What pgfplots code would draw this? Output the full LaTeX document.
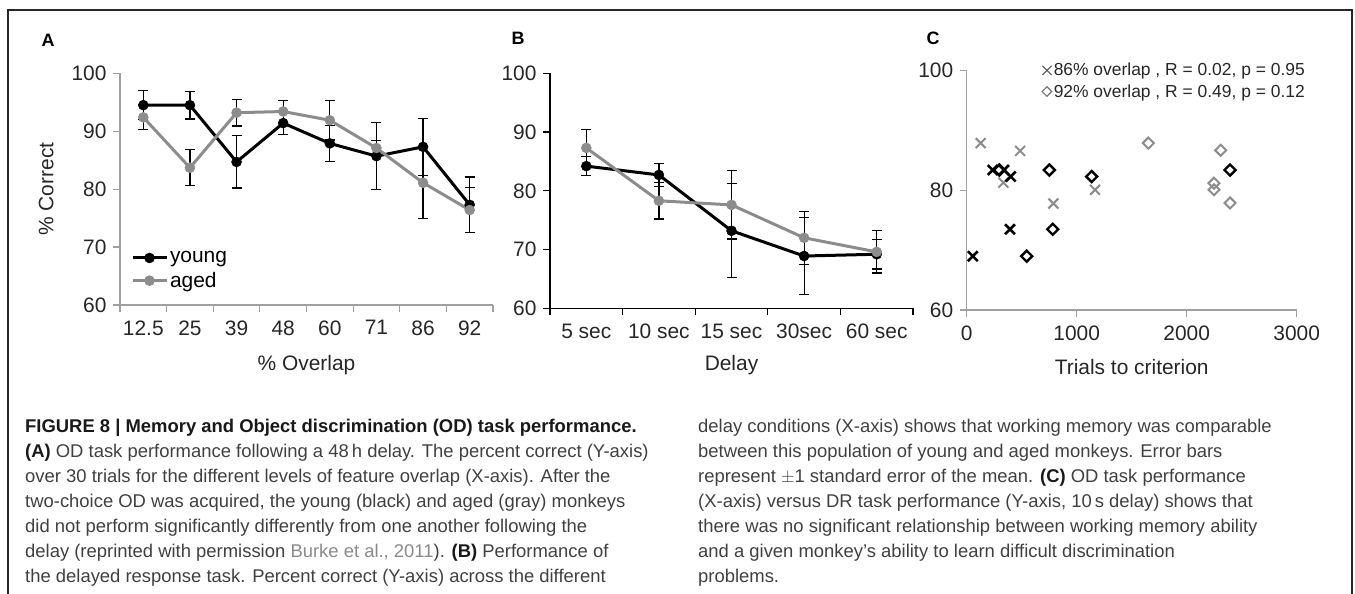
\documentclass[border=0pt]{standalone}
\usepackage{pgfplots}
\pgfplotsset{compat=1.18}
\usepackage{pgfplotstable}
\usepackage{fontspec}
\setmainfont{Liberation Sans}
\definecolor{sergray}{HTML}{8C8C8C}
\definecolor{axgray}{HTML}{A0A0A0}
\definecolor{captxt}{HTML}{404040}
\definecolor{linkgray}{HTML}{8A8A8A}

\pgfplotstableread{
x y e
0.5 94.5 2.5
1.5 94.5 2.4
2.5 84.7 4.5
3.5 91.4 1.9
4.5 87.9 3.1
5.5 85.7 5.8
6.5 87.3 4.9
7.5 77.3 4.8
}\Ayoung
\pgfplotstableread{
x y e
0.5 92.4 2.1
1.5 83.7 3.1
2.5 93.2 2.3
3.5 93.4 1.9
4.5 91.9 3.4
5.5 87.1 1.3
6.5 81.1 6.1
7.5 76.4 3.9
}\Aaged
\pgfplotstableread{
x y e
0.5 84.2 1.6
1.5 82.7 1.9
2.5 73.2 8.0
3.5 68.9 6.5
4.5 69.2 2.5
}\Byoung
\pgfplotstableread{
x y e
0.5 87.3 3.2
1.5 78.3 3.1
2.5 77.6 5.8
3.5 72.0 4.5
4.5 69.6 3.6
}\Baged
\pgfplotstableread{
x y
127 87.9
485 86.6
333 81.3
788 77.8
1167 80.1
}\Cxgray
\pgfplotstableread{
x y
55 69.0
236 83.4
339 83.4
400 82.3
394 73.5
}\Cxblack
\pgfplotstableread{
x y
297 83.4
751 83.4
1136 82.3
782 73.5
545 69.0
2394 83.4
}\Cdblack
\pgfplotstableread{
x y
1651 87.9
2309 86.7
2248 81.2
2248 80.1
2394 77.9
}\Cdgray

\pgfplotsset{
  panel/.style={
    scale only axis,
    axis lines=left,
    axis line style={-},
    tick align=outside,
    major tick length=7bp,
    ticklabel style={font=\fontsize{21}{21}\selectfont, text=black!85},
    label style={font=\fontsize{21}{21}\selectfont, text=black!85},
    /pgf/number format/assume math mode=true,
    /pgf/number format/1000 sep={},
    ymin=60, ymax=100,
    clip=false,
    yticklabel style={xshift=-3bp},
    xticklabel style={yshift=-5bp},
  },
  errs/.style={
    error bars/.cd, y dir=both, y explicit,
    error bar style={black, line width=1.2bp},
    error mark options={rotate=90, mark size=5bp, black, line width=1.2bp},
  },
  young/.style={black, line width=3bp, line join=round, mark=*, mark size=5bp, mark options={fill=black, line width=0.5bp}},
  aged/.style={sergray, line width=3bp, line join=round, mark=*, mark size=5bp, mark options={fill=sergray, line width=0.5bp}},
}

\begin{document}
\begin{tikzpicture}
\path[use as bounding box] (0,0) rectangle (1355bp,-594bp);
\draw[line width=1.5bp, black!85] (8bp,-594bp) -- (8bp,-10bp) -- (1352bp,-10bp) -- (1352bp,-594bp);

% Panel labels
\node[font=\bfseries\fontsize{18}{18}\selectfont] at (48bp,-40bp) {A};
\node[font=\bfseries\fontsize{18}{18}\selectfont] at (518bp,-38bp) {B};
\node[font=\bfseries\fontsize{18}{18}\selectfont] at (933bp,-38bp) {C};

% ---------------- Panel A
\begin{axis}[panel,
  at={(120bp,-305bp)}, anchor=south west,
  width=373bp, height=231.7bp,
  xmin=0, xmax=8,
  ytick={60,70,...,100},
  xtick={0,...,8}, xticklabels={},
  extra x ticks={0.5,1.5,...,7.5},
  extra x tick labels={12.5,25,39,48,60,71,86,92},
  extra x tick style={tick style={draw=none}},
  axis line style={axgray, line width=1.2bp},
  tick style={axgray, line width=1.2bp},
  xlabel={\% Overlap},
  ylabel={\% Correct},
  xlabel style={at={(axis description cs:0.5,-0.259)}, anchor=center},
  ylabel style={at={(axis description cs:-0.198,0.5)}, anchor=center, rotate=0},
  legend style={at={(0.029,0.24)}, anchor=north west, draw=none, fill=none,
    font=\fontsize{21}{21}\selectfont, row sep=4bp, inner sep=0pt},
  legend cell align=left,
  legend image code/.code={\draw[mark repeat=2,mark phase=2,#1] plot coordinates {(0bp,0bp) (17bp,0bp) (34bp,0bp)};},
]
\addplot[young, errs] table[x=x, y=y, y error=e] {\Ayoung};
\addlegendentry{young}
\addplot[aged, errs] table[x=x, y=y, y error=e] {\Aaged};
\addlegendentry{aged}
\end{axis}

% ---------------- Panel B
\begin{axis}[panel,
  at={(550bp,-308.3bp)}, anchor=south west,
  width=363bp, height=235bp,
  xmin=0, xmax=5,
  ytick={60,70,...,100},
  xtick={0,...,5}, xticklabels={},
  extra x ticks={0.5,1.5,...,4.5},
  extra x tick labels={5 sec,10 sec,15 sec,30sec,60 sec},
  extra x tick style={tick style={draw=none}},
  axis line style={black, line width=1.3bp},
  tick style={black, line width=1.3bp},
  xlabel={Delay},
  xlabel style={at={(axis description cs:0.5,-0.241)}, anchor=center},
]
\addplot[young, errs] table[x=x, y=y, y error=e] {\Byoung};
\addplot[aged, errs] table[x=x, y=y, y error=e] {\Baged};
\end{axis}

% ---------------- Panel C
\begin{axis}[panel,
  at={(966.7bp,-310bp)}, anchor=south west,
  width=330bp, height=239.3bp,
  xmin=0, xmax=3000,
  ytick={60,80,100},
  xtick={0,1000,2000,3000},
  axis line style={axgray, line width=1.2bp},
  tick style={axgray, line width=1.2bp},
  xlabel={Trials to criterion},
  xlabel style={at={(axis description cs:0.5,-0.238)}, anchor=center},
  legend style={at={(0.228,1.04)}, anchor=north west, draw=none, fill=none,
    font=\fontsize{17.5}{17.5}\selectfont, row sep=3bp, inner sep=0pt,
    text=black!85},
  legend cell align=left,
  legend image code/.code={\draw[#1] plot coordinates {(5bp,0bp)};},
]
\addlegendimage{only marks, mark=x, mark size=6.5bp, black!65, line width=1.1bp}
\addlegendentry{86\% overlap , R = 0.02, p = 0.95}
\addlegendimage{only marks, mark=square, mark size=3.4bp, mark options={rotate=45}, black!55, line width=1.1bp}
\addlegendentry{92\% overlap , R = 0.49, p = 0.12}
\addplot[forget plot, only marks, mark=x, mark size=7bp, sergray, line width=2bp] table[x=x,y=y] {\Cxgray};
\addplot[forget plot, only marks, mark=x, mark size=7bp, black, line width=2.6bp] table[x=x,y=y] {\Cxblack};
\addplot[forget plot, only marks, mark=square, mark size=3.9bp, mark options={rotate=45}, sergray, line width=2bp] table[x=x,y=y] {\Cdgray};
\addplot[forget plot, only marks, mark=square, mark size=3.9bp, mark options={rotate=45}, black, line width=2.4bp] table[x=x,y=y] {\Cdblack};
\end{axis}

% ---------------- Caption
\begin{scope}[every node/.style={anchor=base west, inner sep=0pt, text=captxt, font=\fontsize{18.5}{18.5}\selectfont}]
\node at (25bp,-432bp) {\textcolor{black!90}{\bfseries FIGURE 8 | Memory and Object discrimination (OD) task performance.}};
\node at (25bp,-457bp) {\textcolor{black!90}{\bfseries (A)} OD task performance following a 48\,h delay. The percent correct (Y-axis)};
\node at (25bp,-482bp) {over 30 trials for the different levels of feature overlap (X-axis). After the};
\node at (25bp,-507bp) {two-choice OD was acquired, the young (black) and aged (gray) monkeys};
\node at (25bp,-532bp) {did not perform significantly differently from one another following the};
\node at (25bp,-557bp) {delay (reprinted with permission \textcolor{linkgray}{Burke et al., 2011}). \textcolor{black!90}{\bfseries (B)} Performance of};
\node at (25bp,-582bp) {the delayed response task. Percent correct (Y-axis) across the different};
\node at (698bp,-432bp) {delay conditions (X-axis) shows that working memory was comparable};
\node at (698bp,-457bp) {between this population of young and aged monkeys. Error bars};
\node at (698bp,-482bp) {represent $\pm$1 standard error of the mean. \textcolor{black!90}{\bfseries (C)} OD task performance};
\node at (698bp,-507bp) {(X-axis) versus DR task performance (Y-axis, 10\,s delay) shows that};
\node at (698bp,-532bp) {there was no significant relationship between working memory ability};
\node at (698bp,-557bp) {and a given monkey’s ability to learn difficult discrimination};
\node at (698bp,-582bp) {problems.};
\end{scope}
\end{tikzpicture}
\end{document}
